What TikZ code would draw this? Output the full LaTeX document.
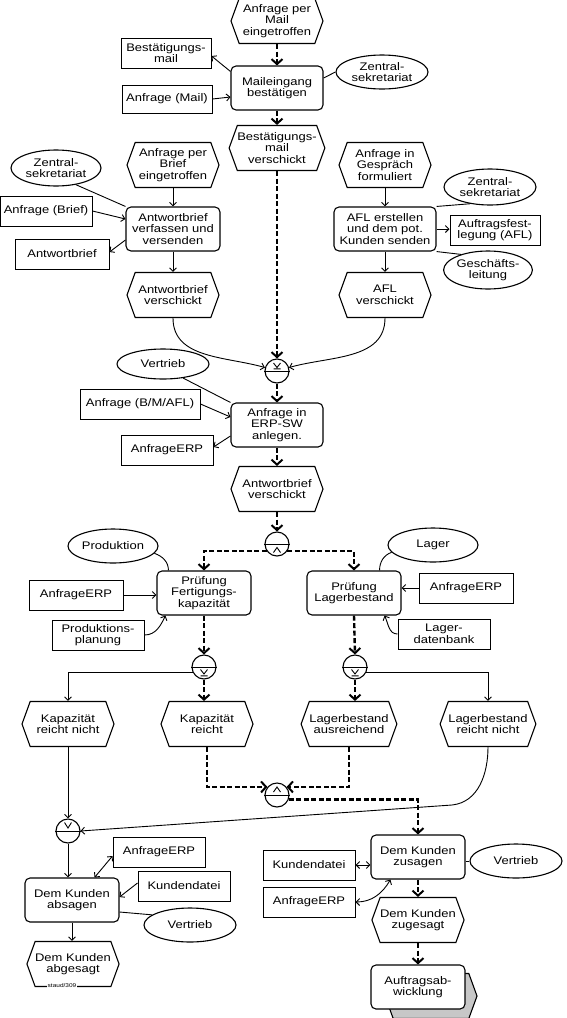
\documentclass[tikz,border=0pt]{standalone}
\usepackage{fontspec}
\setmainfont{Liberation Sans}[FakeStretch=1.18]
\usetikzlibrary{shapes.geometric,shapes.symbols,arrows.meta,calc}
\begin{document}
\begin{tikzpicture}[x=1pt,y=1pt,
 base/.style={font=\fontsize{11}{11.6}\selectfont, align=center, inner sep=0pt, line width=1.1pt},
 fn/.style={base, draw, fill=white, rounded corners=5pt, minimum width=94pt, minimum height=44pt},
 ev/.style={base, draw, signal, signal to=west and east, signal pointer angle=140, minimum width=92pt, minimum height=45pt},
 dat/.style={base, draw, rectangle, line width=1pt, minimum width=92pt, minimum height=30pt},
 org/.style={base, draw, ellipse, minimum width=92pt, minimum height=34pt},
 op/.style={draw, circle, line width=1.1pt, minimum size=24pt, inner sep=0pt},
 sym/.style={line width=0.9pt},
 flow/.style={line width=2.4pt, dash pattern=on 5pt off 2.5pt, -{Straight Barb[length=5pt,width=11pt,line width=2pt]}},
 arr/.style={line width=0.9pt, -{Straight Barb[length=3.5pt,width=7pt]}},
 darr/.style={line width=0.9pt, {Straight Barb[length=3.5pt,width=7pt]}-{Straight Barb[length=3.5pt,width=7pt]}},
 con/.style={line width=0.9pt}]
\useasboundingbox (0,0) rectangle (567,-1018);
% ---- top
\node[ev] (e1) at (277,-21) {Anfrage per\\Mail\\eingetroffen};
\node[dat,minimum width=90pt] (b1) at (166,-53) {Bestätigungs-\\mail};
\node[fn,minimum width=92pt] (f1) at (277,-88) {Maileingang\\bestätigen};
\node[org] (o1) at (382,-72) {Zentral-\\sekretariat};
\node[dat,minimum width=90pt,minimum height=28pt] (b2) at (167,-99) {Anfrage (Mail)};
\node[ev] (e2) at (277,-148) {Bestätigungs-\\mail\\verschickt};
% ---- left column
\node[ev] (e3) at (173,-165) {Anfrage per\\Brief\\eingetroffen};
\node[org,minimum width=90pt,minimum height=36pt] (o2) at (56,-168) {Zentral-\\sekretariat};
\node[dat] (b3) at (46,-211) {Anfrage (Brief)};
\node[fn] (f2) at (173,-229) {Antwortbrief\\verfassen und\\versenden};
\node[dat,minimum width=94pt] (b4) at (62,-254) {Antwortbrief};
\node[ev] (e4) at (173,-295) {Antwortbrief\\verschickt};
% ---- right column
\node[ev] (e5) at (385,-165) {Anfrage in\\Gespräch\\formuliert};
\node[fn,minimum width=102pt] (f3) at (385,-229) {AFL erstellen\\und dem pot.\\Kunden senden};
\node[org,minimum height=36pt] (o3) at (490,-187) {Zentral-\\sekretariat};
\node[dat,minimum width=90pt] (b5) at (495,-230) {Auftragsfest-\\legung (AFL)};
\node[org,minimum width=86pt,minimum height=38pt] (o4) at (488,-270) {Geschäfts-\\leitung};
\node[ev] (e6) at (385,-295) {AFL\\verschickt};
% ---- ERP
\node[op] (x1) at (277,-371) {};
\node[org,minimum height=30pt] (o5) at (163,-364) {Vertrieb};
\node[dat,minimum width=120pt] (b6) at (140,-404) {Anfrage (B/M/AFL)};
\node[fn,minimum width=92pt] (f4) at (277,-425) {Anfrage in\\ERP-SW\\anlegen.};
\node[dat] (b7) at (167,-450) {AnfrageERP};
\node[ev] (e7) at (277,-489) {Antwortbrief\\verschickt};
% ---- checks
\node[op] (a1) at (277,-544) {};
\node[org,minimum width=90pt] (o6) at (113,-546) {Produktion};
\node[fn] (f5) at (204,-593) {Prüfung\\Fertigungs-\\kapazität};
\node[dat,minimum width=94pt] (b8) at (76,-595) {AnfrageERP};
\node[dat] (b9) at (98,-635) {Produktions-\\planung};
\node[org,minimum width=90pt] (o7) at (433,-545) {Lager};
\node[fn] (f6) at (354,-593) {Prüfung\\Lagerbestand};
\node[dat,minimum width=94pt] (b10) at (466,-588) {AnfrageERP};
\node[dat] (b11) at (444,-634) {Lager-\\datenbank};
\node[op] (x2) at (204,-667) {};
\node[op] (x3) at (355,-667) {};
\node[ev] (e8) at (68,-724) {Kapazität\\reicht nicht};
\node[ev] (e9) at (207,-724) {Kapazität\\reicht};
\node[ev] (e10) at (349,-724) {Lagerbestand\\ausreichend};
\node[ev] (e11) at (488,-724) {Lagerbestand\\reicht nicht};
\node[op] (a2) at (277,-795) {};
\node[op] (x4) at (68,-831) {};
% ---- bottom left
\node[fn] (f7) at (72,-900) {Dem Kunden\\absagen};
\node[dat] (b12) at (159,-852) {AnfrageERP};
\node[dat] (b13) at (184,-886) {Kundendatei};
\node[org,minimum height=34pt] (o8) at (190,-925) {Vertrieb};
\node[ev] (e12) at (73,-964) {Dem Kunden\\abgesagt};
\node[font=\fontsize{5.5}{6}\selectfont, fill=white, inner sep=0.6pt] (st) at (62,-986) {staud/309};
% ---- bottom right
\node[fn] (f8) at (418,-857) {Dem Kunden\\zusagen};
\node[dat] (b14) at (309,-865) {Kundendatei};
\node[org] (o9) at (516,-861) {Vertrieb};
\node[dat] (b15) at (309,-902) {AnfrageERP};
\node[ev] (e13) at (418,-920) {Dem Kunden\\zugesagt};
\node[ev, fill=black!22] (p1s) at (431,-996) {};
\node[fn] (p1) at (418,-987) {Auftragsab-\\wicklung};
% ---- operator symbols
\foreach \o in {x1,a1,x2,x3,a2,x4} \draw[sym] (\o.west) -- (\o.east);
\begin{scope}[shift={(x1.center)}]
 \draw[sym] (-3.5,8) -- (0,3.5) -- (3.5,8) (-3.5,2.2) -- (3.5,2.2);
\end{scope}
\begin{scope}[shift={(a1.center)}]
 \draw[sym] (-3.5,-8.5) -- (0,-3.5) -- (3.5,-8.5);
\end{scope}
\begin{scope}[shift={(x2.center)}]
 \draw[sym] (-3.5,-2.5) -- (0,-7) -- (3.5,-2.5) (-3.5,-8.8) -- (3.5,-8.8);
\end{scope}
\begin{scope}[shift={(x3.center)}]
 \draw[sym] (-3.5,-2.5) -- (0,-7) -- (3.5,-2.5) (-3.5,-8.8) -- (3.5,-8.8);
\end{scope}
\begin{scope}[shift={(a2.center)}]
 \draw[sym] (-3.5,3) -- (0,8) -- (3.5,3);
\end{scope}
\begin{scope}[shift={(x4.center)}]
 \draw[sym] (-3.5,8.5) -- (0,3) -- (3.5,8.5);
\end{scope}
% ---- connectors top
\draw[flow] (e1.south) -- (f1.north);
\draw[arr] ([yshift=-6pt]f1.north west) -- ([yshift=-3pt]b1.east);
\draw[arr] (b2.east) -- ([yshift=-9pt]f1.west);
\draw[con] ([yshift=10pt]f1.east) -- (o1.west);
\draw[flow] (f1.south) -- (e2.north);
\draw[flow] (e2.south) -- (x1.north);
% left
\draw[arr] (e3.south) -- (f2.north);
\draw[con] (o2.-40) -- (f2.north west);
\draw[arr] (b3.east) -- ([yshift=10pt]f2.west);
\draw[arr] ([yshift=-11pt]f2.west) -- ([yshift=2pt]b4.east);
\draw[arr] (f2.south) -- (e4.north);
\draw[arr] (e4.south) to[out=-90,in=164] (x1.164);
% right
\draw[arr] (e5.south) -- (f3.north);
\draw[con] (f3.north east) -- (o3.-140);
\draw[arr] (f3.east) -- (f3.east -| b5.west);
\draw[con] (f3.south east) -- (o4.150);
\draw[arr] (f3.south) -- (e6.north);
\draw[arr] (e6.south) to[out=-90,in=16] (x1.16);
% ERP
\draw[flow] (x1.south) -- (f4.north);
\draw[con] (o5.-35) -- (f4.north west);
\draw[arr] (b6.east) -- ([yshift=8pt]f4.west);
\draw[arr] ([yshift=-11pt]f4.west) -- ([yshift=3pt]b7.east);
\draw[flow] (f4.south) -- (e7.north);
\draw[flow] (e7.south) -- (a1.north);
% checks
\draw[flow] (a1.215) -| (f5.north);
\draw[flow] (a1.-35) -| (f6.north);
\draw[con] (o6.-10) to[out=-20,in=90] ([xshift=12pt]f5.north west);
\draw[arr] (b8.east) -- (b8.east -| f5.west);
\draw[arr] (b9.east) to[out=0,in=-115] ([xshift=9pt]f5.south west);
\draw[con] (o7.190) to[out=-160,in=90] ([xshift=-22pt]f6.north east);
\draw[arr] (b10.west) -- (b10.west -| f6.east);
\draw[arr] (b11.west) to[out=180,in=-65] ([xshift=-17pt]f6.south east);
\draw[flow] (f5.south) -- (x2.north);
\draw[flow] (f6.south) -- (x3.north);
\draw[arr] (x2.205) -| (e8.north);
\draw[flow] (x2.south) -- (x2.south |- e9.north);
\draw[flow] (x3.south) -- (x3.south |- e10.north);
\draw[arr] (x3.-25) -| (e11.north);
\draw[flow] (e9.south) |- (a2.140);
\draw[flow] (e10.south) |- (a2.40);
\draw[flow] (a2.-20) -| (f8.north);
\draw[arr] (e8.south) -- (x4.north);
\coordinate (c1) at (452,-805);
\draw[arr] (e11.south) to[out=-90,in=6] (c1) -- (x4.east);
% bottom left
\draw[arr] (x4.south) -- (x4.south |- f7.north);
\draw[darr] ([xshift=-25pt]f7.north east) -- ([yshift=-4pt]b12.west);
\draw[arr] ([yshift=3pt]b13.west) -- ([yshift=3pt]f7.east);
\draw[con] ([yshift=-12pt]f7.east) -- (o8.165);
\draw[arr] (f7.south) -- (f7.south |- e12.north);
% bottom right
\draw[darr] (b14.east) -- (b14.east -| f8.west);
\draw[darr] (b15.east) to[out=0,in=-120] ([xshift=20pt]f8.south west);
\draw[con] (o9.west -| f8.east) -- (o9.west);
\draw[flow] (f8.south) -- (e13.north);
\draw[flow] (e13.south) -- (p1.north);
\end{tikzpicture}
\end{document}
